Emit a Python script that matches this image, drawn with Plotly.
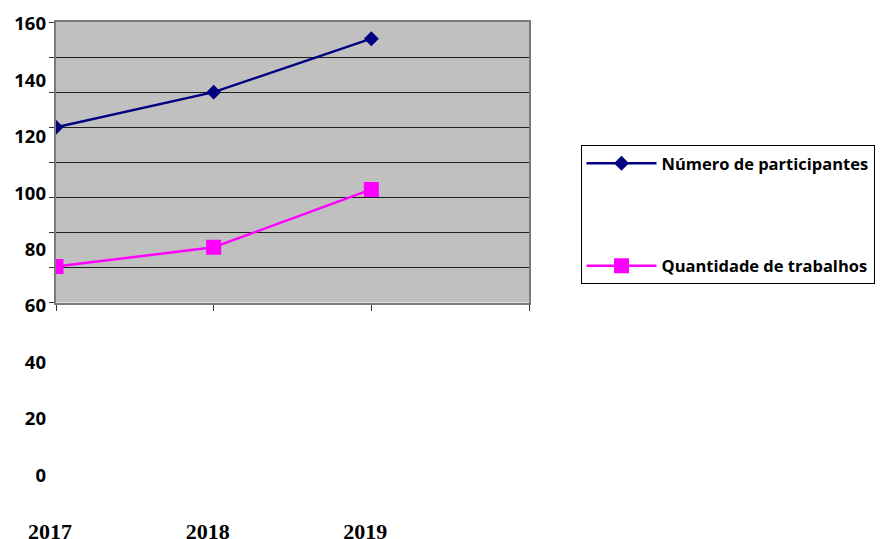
import plotly.graph_objects as go

# Data
years = [2017, 2018, 2019]
year_labels = ["2017", "2018", "2019"]
participantes = [100, 120, 150.5]
trabalhos = [20.5, 31.5, 64.5]
y_tick_values = [0, 20, 40, 60, 80, 100, 120, 140, 160]
y_tick_labels = ["0", "20", "40", "60", "80", "100", "120", "140", "160"]

W, H = 883, 539
OFF = 8  # page body margin

def px_x(p):
    return (p - OFF) / W

def px_y(p):
    return 1 - (p - OFF) / H

fig = go.Figure()

fig.add_trace(go.Scatter(
    x=years, y=participantes, name="Número de participantes",
    mode="lines+markers", legendgroup="a",
    line=dict(color="#000080", width=2.5),
    marker=dict(symbol="diamond", size=11.5, color="#000080"),
))
fig.add_trace(go.Scatter(
    x=years, y=trabalhos, name="Quantidade de trabalhos",
    mode="lines+markers", legendgroup="b",
    line=dict(color="#FF00FF", width=2.5),
    marker=dict(symbol="square", size=15, color="#FF00FF"),
))
# invisible trace to carry the label axes
fig.add_trace(go.Scatter(
    x=[None], y=[None], xaxis="x2", yaxis="y2",
    showlegend=False, hoverinfo="skip",
))

fig.add_shape(
    type="rect", xref="x domain", yref="y domain",
    x0=0, x1=1, y0=0, y1=1,
    fillcolor="#C0C0C0", line=dict(width=0), layer="below",
)

fig.update_layout(
    width=W, height=H,
    margin=dict(l=0, r=0, t=0, b=0),
    paper_bgcolor="white",
    plot_bgcolor="rgba(0,0,0,0)",
    template="none",
    showlegend=True,
    xaxis=dict(
        domain=[px_x(56), px_x(529)],
        range=[2017, 2020], dtick=1, tick0=2017,
        showgrid=False, zeroline=False,
        showticklabels=False,
        ticks="outside", ticklen=6, tickcolor="#333", tickwidth=1,
        showline=True, linecolor="#7a7a7a", linewidth=2, mirror=True,
        anchor="y", automargin=False,
    ),
    yaxis=dict(
        domain=[px_y(302.5), px_y(22)],
        range=[0, 160], dtick=20,
        showgrid=True, gridcolor="#1e1e1e", gridwidth=1,
        zeroline=False, showticklabels=False,
        ticks="outside", ticklen=5, tickcolor="#333", tickwidth=1,
        showline=True, linecolor="#7a7a7a", linewidth=2, mirror=True,
        anchor="x", automargin=False,
    ),
    xaxis2=dict(
        domain=[px_x(50), px_x(523)],
        range=[2017, 2020],
        tickmode="array", tickvals=years, ticktext=year_labels,
        showgrid=False, zeroline=False, showline=False, ticks="",
        tickfont=dict(family="Liberation Serif", size=22, color="black", weight="bold"),
        anchor="free", position=px_y(516), automargin=False,
    ),
    yaxis2=dict(
        domain=[px_y(475.3), px_y(23.8)],
        range=[0, 160],
        tickmode="array", tickvals=y_tick_values, ticktext=y_tick_labels,
        showgrid=False, zeroline=False, showline=False, ticks="",
        tickfont=dict(family="Open Sans", size=18.5, color="black", weight="bold"),
        anchor="free", position=px_x(46), automargin=False,
    ),
    legend=dict(
        x=px_x(580.5), y=px_y(145), xanchor="left", yanchor="top",
        bgcolor="white", bordercolor="black", borderwidth=1,
        font=dict(family="Open Sans", size=16.5, color="black", weight="bold"),
        traceorder="grouped", tracegroupgap=78,
        itemwidth=70,
    ),
)

fig.write_html("out.html")
